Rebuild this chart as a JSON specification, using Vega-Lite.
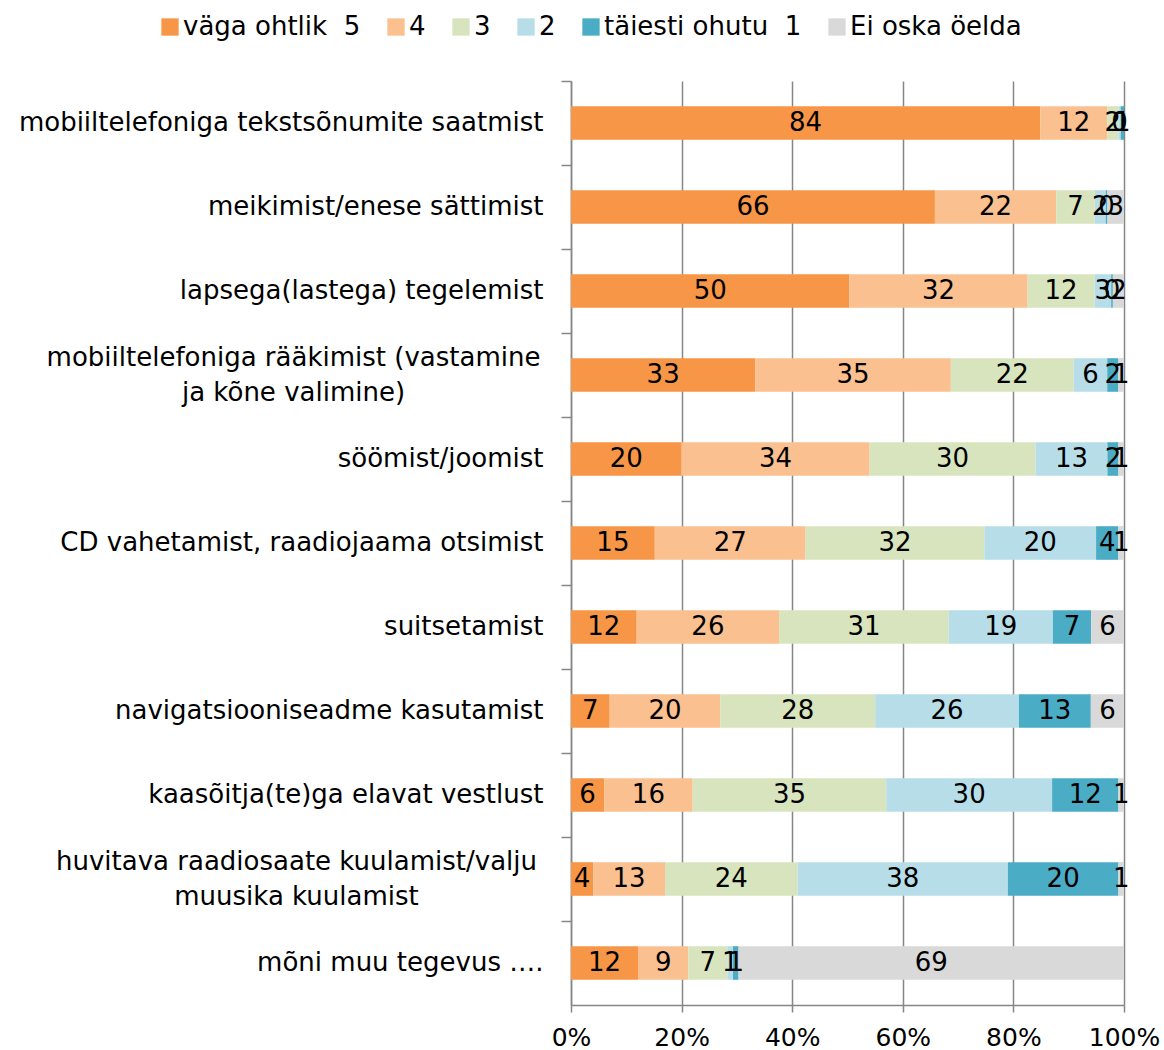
{
  "$schema": "https://vega.github.io/schema/vega-lite/v6.json",
  "width": 553,
  "height": 924,
  "autosize": {"type": "none"},
  "padding": {"left": 571, "top": 81, "right": 40, "bottom": 45},
  "background": "white",
  "config": {
    "font": "DejaVu Sans",
    "view": {"stroke": null}
  },
  "data": {
    "values": [
      {"a": "mobiiltelefoniga tekstsõnumite saatmist", "c": "väga ohtlik  5", "v": 84},
      {"a": "mobiiltelefoniga tekstsõnumite saatmist", "c": "4", "v": 12},
      {"a": "mobiiltelefoniga tekstsõnumite saatmist", "c": "3", "v": 2},
      {"a": "mobiiltelefoniga tekstsõnumite saatmist", "c": "2", "v": 0.4},
      {"a": "mobiiltelefoniga tekstsõnumite saatmist", "c": "täiesti ohutu  1", "v": 0.6},
      {"a": "meikimist/enese sättimist", "c": "väga ohtlik  5", "v": 66},
      {"a": "meikimist/enese sättimist", "c": "4", "v": 22},
      {"a": "meikimist/enese sättimist", "c": "3", "v": 7},
      {"a": "meikimist/enese sättimist", "c": "2", "v": 2},
      {"a": "meikimist/enese sättimist", "c": "täiesti ohutu  1", "v": 0.3},
      {"a": "meikimist/enese sättimist", "c": "Ei oska öelda", "v": 3},
      {"a": "lapsega(lastega) tegelemist", "c": "väga ohtlik  5", "v": 50},
      {"a": "lapsega(lastega) tegelemist", "c": "4", "v": 32},
      {"a": "lapsega(lastega) tegelemist", "c": "3", "v": 12},
      {"a": "lapsega(lastega) tegelemist", "c": "2", "v": 3},
      {"a": "lapsega(lastega) tegelemist", "c": "täiesti ohutu  1", "v": 0.3},
      {"a": "lapsega(lastega) tegelemist", "c": "Ei oska öelda", "v": 2},
      {"a": "mobiiltelefoniga rääkimist (vastamine|ja kõne valimine)", "c": "väga ohtlik  5", "v": 33},
      {"a": "mobiiltelefoniga rääkimist (vastamine|ja kõne valimine)", "c": "4", "v": 35},
      {"a": "mobiiltelefoniga rääkimist (vastamine|ja kõne valimine)", "c": "3", "v": 22},
      {"a": "mobiiltelefoniga rääkimist (vastamine|ja kõne valimine)", "c": "2", "v": 6},
      {"a": "mobiiltelefoniga rääkimist (vastamine|ja kõne valimine)", "c": "täiesti ohutu  1", "v": 2},
      {"a": "mobiiltelefoniga rääkimist (vastamine|ja kõne valimine)", "c": "Ei oska öelda", "v": 1},
      {"a": "söömist/joomist", "c": "väga ohtlik  5", "v": 20},
      {"a": "söömist/joomist", "c": "4", "v": 34},
      {"a": "söömist/joomist", "c": "3", "v": 30},
      {"a": "söömist/joomist", "c": "2", "v": 13},
      {"a": "söömist/joomist", "c": "täiesti ohutu  1", "v": 2},
      {"a": "söömist/joomist", "c": "Ei oska öelda", "v": 1},
      {"a": "CD vahetamist, raadiojaama otsimist", "c": "väga ohtlik  5", "v": 15},
      {"a": "CD vahetamist, raadiojaama otsimist", "c": "4", "v": 27},
      {"a": "CD vahetamist, raadiojaama otsimist", "c": "3", "v": 32},
      {"a": "CD vahetamist, raadiojaama otsimist", "c": "2", "v": 20},
      {"a": "CD vahetamist, raadiojaama otsimist", "c": "täiesti ohutu  1", "v": 4},
      {"a": "CD vahetamist, raadiojaama otsimist", "c": "Ei oska öelda", "v": 1},
      {"a": "suitsetamist", "c": "väga ohtlik  5", "v": 12},
      {"a": "suitsetamist", "c": "4", "v": 26},
      {"a": "suitsetamist", "c": "3", "v": 31},
      {"a": "suitsetamist", "c": "2", "v": 19},
      {"a": "suitsetamist", "c": "täiesti ohutu  1", "v": 7},
      {"a": "suitsetamist", "c": "Ei oska öelda", "v": 6},
      {"a": "navigatsiooniseadme kasutamist", "c": "väga ohtlik  5", "v": 7},
      {"a": "navigatsiooniseadme kasutamist", "c": "4", "v": 20},
      {"a": "navigatsiooniseadme kasutamist", "c": "3", "v": 28},
      {"a": "navigatsiooniseadme kasutamist", "c": "2", "v": 26},
      {"a": "navigatsiooniseadme kasutamist", "c": "täiesti ohutu  1", "v": 13},
      {"a": "navigatsiooniseadme kasutamist", "c": "Ei oska öelda", "v": 6},
      {"a": "kaasõitja(te)ga elavat vestlust", "c": "väga ohtlik  5", "v": 6},
      {"a": "kaasõitja(te)ga elavat vestlust", "c": "4", "v": 16},
      {"a": "kaasõitja(te)ga elavat vestlust", "c": "3", "v": 35},
      {"a": "kaasõitja(te)ga elavat vestlust", "c": "2", "v": 30},
      {"a": "kaasõitja(te)ga elavat vestlust", "c": "täiesti ohutu  1", "v": 12},
      {"a": "kaasõitja(te)ga elavat vestlust", "c": "Ei oska öelda", "v": 1},
      {"a": "huvitava raadiosaate kuulamist/valju|muusika kuulamist", "c": "väga ohtlik  5", "v": 4},
      {"a": "huvitava raadiosaate kuulamist/valju|muusika kuulamist", "c": "4", "v": 13},
      {"a": "huvitava raadiosaate kuulamist/valju|muusika kuulamist", "c": "3", "v": 24},
      {"a": "huvitava raadiosaate kuulamist/valju|muusika kuulamist", "c": "2", "v": 38},
      {"a": "huvitava raadiosaate kuulamist/valju|muusika kuulamist", "c": "täiesti ohutu  1", "v": 20},
      {"a": "huvitava raadiosaate kuulamist/valju|muusika kuulamist", "c": "Ei oska öelda", "v": 1},
      {"a": "mõni muu tegevus ….", "c": "väga ohtlik  5", "v": 12},
      {"a": "mõni muu tegevus ….", "c": "4", "v": 9},
      {"a": "mõni muu tegevus ….", "c": "3", "v": 7},
      {"a": "mõni muu tegevus ….", "c": "2", "v": 1},
      {"a": "mõni muu tegevus ….", "c": "täiesti ohutu  1", "v": 1},
      {"a": "mõni muu tegevus ….", "c": "Ei oska öelda", "v": 69}
    ]
  },
  "transform": [
    {"calculate": "indexof(['väga ohtlik  5','4','3','2','täiesti ohutu  1','Ei oska öelda'], datum.c)", "as": "o"},
    {"stack": "v", "groupby": ["a"], "sort": [{"field": "o", "order": "ascending"}], "offset": "normalize", "as": ["x0", "x1"]},
    {"calculate": "(datum.x0 + datum.x1) / 2", "as": "xm"}
  ],
  "encoding": {
    "y": {
      "field": "a",
      "type": "nominal",
      "sort": [
        "mobiiltelefoniga tekstsõnumite saatmist",
        "meikimist/enese sättimist",
        "lapsega(lastega) tegelemist",
        "mobiiltelefoniga rääkimist (vastamine|ja kõne valimine)",
        "söömist/joomist",
        "CD vahetamist, raadiojaama otsimist",
        "suitsetamist",
        "navigatsiooniseadme kasutamist",
        "kaasõitja(te)ga elavat vestlust",
        "huvitava raadiosaate kuulamist/valju|muusika kuulamist",
        "mõni muu tegevus …."
      ],
      "scale": {"paddingInner": 0, "paddingOuter": 0},
      "axis": {
        "title": null,
        "bandPosition": 0,
        "domainColor": "#868686",
        "domainWidth": 1.5,
        "tickColor": "#868686",
        "tickWidth": 1.5,
        "tickSize": 10,
        "labelFontSize": 26,
        "labelColor": "#000000",
        "labelLimit": 0,
        "labelLineHeight": 35,
        "labelExpr": "split(datum.value, '|')",
        "labelAlign": {"condition": {"test": "indexof(datum.value, '|') >= 0", "value": "center"}, "value": "right"},
        "labelOffset": {"condition": {"test": "indexof(datum.value, '|') >= 0", "value": -17}, "value": 0},
        "labelPadding": {"condition": [
          {"test": "indexof(datum.value, 'vastamine') >= 0", "value": 268},
          {"test": "indexof(datum.value, 'valju') >= 0", "value": 265}
        ], "value": 18}
      }
    }
  },
  "layer": [
    {
      "mark": {"type": "bar", "height": {"band": 0.4}},
      "encoding": {
        "x": {
          "field": "x0",
          "type": "quantitative",
          "scale": {"domain": [0, 1], "nice": false},
          "axis": {
            "title": null,
            "format": ".0%",
            "values": [0, 0.2, 0.4, 0.6, 0.8, 1],
            "grid": true,
            "gridColor": "#868686",
            "gridWidth": 1.5,
            "domainColor": "#868686",
            "domainWidth": 1.5,
            "tickColor": "#868686",
            "tickWidth": 1.5,
            "tickSize": 7,
            "labelFontSize": 25,
            "labelColor": "#000000",
            "labelPadding": 13,
            "labelFlush": false
          }
        },
        "x2": {"field": "x1"},
        "color": {
          "field": "c",
          "type": "nominal",
          "scale": {
            "domain": ["väga ohtlik  5", "4", "3", "2", "täiesti ohutu  1", "Ei oska öelda"],
            "range": ["#F79646", "#FAC090", "#D7E4BD", "#B7DEE8", "#4BACC6", "#D9D9D9"]
          },
          "legend": {
            "title": null,
            "orient": "none",
            "direction": "horizontal",
            "legendX": -414,
            "legendY": -67,
            "symbolType": "square",
            "symbolSize": 300,
            "symbolStrokeWidth": 0,
            "labelFontSize": 26,
            "labelLimit": 400,
            "labelColor": "#000000",
            "labelOffset": 0,
            "columnPadding": 22,
            "labelExpr": "replace(datum.label, '  ', '\u00a0 ')"
          }
        }
      }
    },
    {
      "mark": {"type": "text", "fontSize": 26, "color": "#000000", "baseline": "middle", "align": "center"},
      "encoding": {
        "x": {"field": "xm", "type": "quantitative"},
        "text": {"field": "v", "type": "quantitative", "format": ".0f"}
      }
    }
  ]
}
